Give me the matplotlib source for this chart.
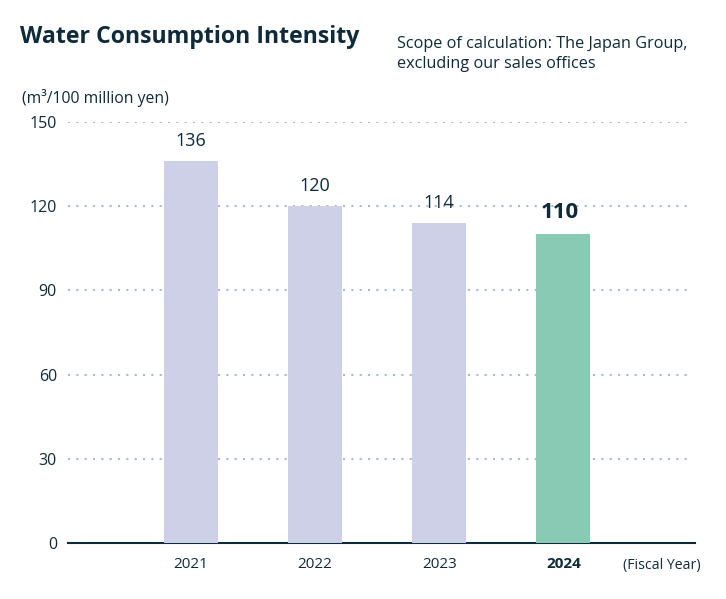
import matplotlib.pyplot as plt

years = ['2021', '2022', '2023', '2024']
values = [136, 120, 114, 110]
y_ticks = [0, 30, 60, 90, 120, 150]

navy = '#0f2a3a'
lavender = '#cdd0e6'
green = '#88cab4'
grid_col = '#a7bcc6'

plt.rcParams['font.family'] = ['Open Sans', 'DejaVu Sans']

fig = plt.figure(figsize=(7.26, 5.99), dpi=100)
ax = fig.add_axes([68 / 726, 1 - 543 / 599, (695 - 68) / 726, (543 - 122) / 599])

x = list(range(len(years)))
colors = [lavender] * (len(years) - 1) + [green]
ax.bar(x, values, width=0.435, color=colors, zorder=3)

for i, v in enumerate(values):
    last = i == len(values) - 1
    ax.text(i - 0.03 if last else i, v + 4, str(v), ha='center', va='bottom', color=navy,
            fontsize=16 if last else 13, fontweight='bold' if last else 'normal')

ax.set_xlim(-0.99, 4.06)
ax.set_ylim(0, 150)
ax.set_yticks(y_ticks)
ax.set_yticklabels([str(t) for t in y_ticks], fontsize=11.5, color=navy)
ax.set_xticks(x)
ax.set_xticklabels(years, fontsize=11, color=navy)
ax.get_xticklabels()[-1].set_fontweight('bold')
ax.tick_params(length=0, pad=10)
ax.tick_params(axis='y', pad=8)

for t in y_ticks[1:]:
    ax.axhline(t, xmin=0.0, xmax=(690 - 68) / (695 - 68), color=grid_col,
               linestyle=(0, (1, 3)), linewidth=1.5, zorder=1)

for s in ['top', 'right', 'left']:
    ax.spines[s].set_visible(False)
ax.spines['bottom'].set_color(navy)
ax.spines['bottom'].set_linewidth(1.5)
ax.spines['bottom'].set_zorder(2)

fig.text(20 / 726, 1 - 37 / 599, 'Water Consumption Intensity', fontsize=16.7,
         fontweight='bold', color=navy, va='center')
fig.text(397 / 726, 1 - 54 / 599,
         'Scope of calculation: The Japan Group,\nexcluding our sales offices',
         fontsize=11.7, color=navy, va='center', linespacing=1.35)
fig.text(22 / 726, 1 - 98 / 599, '(m³/100 million yen)', fontsize=11.3,
         color=navy, va='center')
fig.text(623 / 726, 1 - 565 / 599, '(Fiscal Year)', fontsize=10.2,
         color=navy, va='center')

fig.savefig('out.png', dpi=100)
